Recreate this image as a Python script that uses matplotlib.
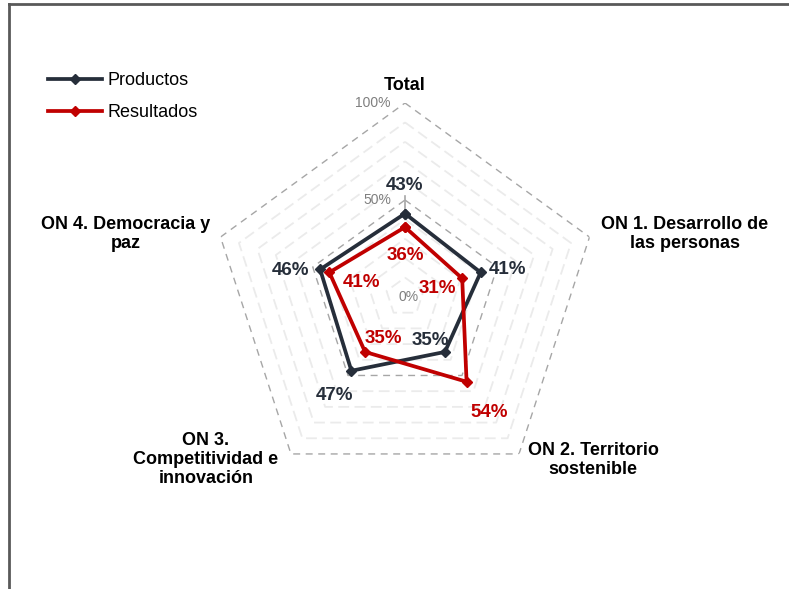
import numpy as np
import matplotlib
matplotlib.use("Agg")
import matplotlib.pyplot as plt
from matplotlib.lines import Line2D

plt.rcParams['font.family'] = ['Liberation Sans', 'DejaVu Sans']

# Radar data
categories = ["Total", "ON 1. Desarrollo de\nlas personas", "ON 2. Territorio\nsostenible",
              "ON 3.\nCompetitividad e\ninnovación", "ON 4. Democracia y\npaz"]
productos = [0.43, 0.41, 0.35, 0.47, 0.46]
resultados = [0.36, 0.31, 0.54, 0.35, 0.41]
series_names = ["Productos", "Resultados"]
tick_values = [0.0, 0.5, 1.0]
tick_labels = ["0%", "50%", "100%"]

C_PROD = "#262e3a"
C_RES = "#c00000"

W, H = 789, 589
fig = plt.figure(figsize=(W / 100, H / 100), dpi=100)

cx, cy, R = 405, 297, 194
ax = fig.add_axes([(cx - R) / W, (H - cy - R) / H, 2 * R / W, 2 * R / H], projection="polar")
ax.set_theta_offset(np.pi / 2)
ax.set_theta_direction(-1)
ax.set_ylim(0, 1)
ax.set_xticks([])
ax.set_yticks([])
ax.grid(False)
ax.spines["polar"].set_visible(False)
ax.patch.set_visible(False)

n = len(categories)
theta = np.linspace(0, 2 * np.pi, n, endpoint=False)
theta_c = np.append(theta, theta[0])

# Pentagonal gridlines
for level in np.arange(1, 11) / 10:
    major = abs(level - 0.5) < 1e-9 or abs(level - 1.0) < 1e-9
    ax.plot(theta_c, [level] * (n + 1), color="#a6a6a6" if major else "#ebebeb",
            lw=1.0 if major else 1.3, ls=(0, (5, 4)) if major else (0, (6, 3)), zorder=1)

# Value axis segment and tick labels
ax.plot([0, 0], [0.43, 0.52], color="#a6a6a6", lw=1.2, zorder=1)
tick_off = [(4, 0), (-14, 0), (-14, 0)]
tick_ha = ["center", "right", "right"]
for v, t, o, ha in zip(tick_values, tick_labels, tick_off, tick_ha):
    ax.annotate(t, xy=(0, v), xytext=o, textcoords="offset pixels",
                ha=ha, va="center", fontsize=10, color="#7f7f7f")

# Series
for vals, col, name in [(productos, C_PROD, series_names[0]), (resultados, C_RES, series_names[1])]:
    ax.plot(theta_c, vals + [vals[0]], color=col, lw=2.7, marker="D", ms=5,
            label=name, zorder=3, solid_joinstyle="miter")

# Data labels (pixel offsets from each point)
prod_off = [(0, 28), (27, 3), (-15, 11), (-17, -25), (-30, -1)]
res_off = [(0, -28), (-25, -10), (23, -31), (18, 13), (32, -10)]
for vals, offs, col in [(productos, prod_off, C_PROD), (resultados, res_off, C_RES)]:
    for th, v, o in zip(theta, vals, offs):
        ax.annotate(f"{round(v * 100):d}%", xy=(th, v), xytext=o, textcoords="offset pixels",
                    ha="center", va="center", fontsize=13.5, fontweight="bold", color=col, zorder=4)

# Category labels
cat_off = [(0, 18), (95, 3), (74, -6), (-85, -6), (-95, 3)]
for th, lab, o in zip(theta, categories, cat_off):
    ax.annotate(lab, xy=(th, 1.0), xytext=o, textcoords="offset pixels",
                ha="center", va="center", fontsize=13, fontweight="bold",
                color="black", linespacing=1.15, annotation_clip=False)

# Legend
fig.legend(loc="upper left", bbox_to_anchor=(48 / W, 1 - 72 / H), frameon=False,
           fontsize=13, handlelength=3.0, handletextpad=0.3, labelspacing=0.85,
           borderpad=0, borderaxespad=0)

# Outer frame (left and top edges)
fig.add_artist(Line2D([8.5 / W, 8.5 / W], [0, 1 - 3.5 / H], transform=fig.transFigure,
                      color="#595959", lw=2))
fig.add_artist(Line2D([8.5 / W, 1], [1 - 3.5 / H, 1 - 3.5 / H], transform=fig.transFigure,
                      color="#595959", lw=2))

fig.savefig("out.png", dpi=100)
